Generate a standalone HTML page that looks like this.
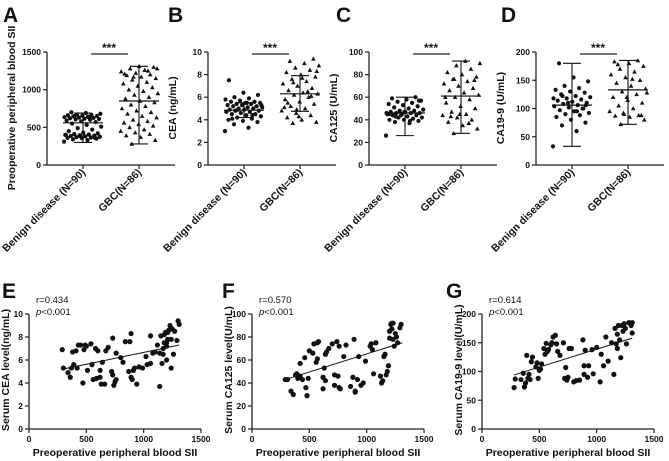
<!DOCTYPE html>
<html><head><meta charset="utf-8">
<style>
html,body{margin:0;padding:0;background:#fff;}
svg{display:block;font-family:"Liberation Sans",Arial,sans-serif;}
</style></head>
<body>
<svg id="fig" width="669" height="461" viewBox="0 0 669 461" xmlns="http://www.w3.org/2000/svg"></svg>
<script>
// ---- Group comparison data (panels A-D) ----
const groupCategories = ["Benign disease (N=90)", "GBC(N=86)"];
const aBenign = [310,330,340,350,355,360,365,370,375,380,385,390,395,400,405,410,420,430,450,470,490,510,530,550,570,580,590,600,605,610,615,620,625,630,635,640,645,650,655,660,665,670,680,690,700,360,380,400,630,650];
const aGBC = [280,330,370,390,410,430,450,470,500,520,540,560,580,600,630,650,680,700,720,750,780,800,830,850,880,900,930,950,980,1000,1030,1050,1080,1100,1130,1150,1170,1190,1200,1220,1240,1260,1280,1300,1310,1210,1250,1170,1280];
const aMean = [560,850], aLow = [300,280], aHigh = [690,1310];
const bBenign = [3.0,3.3,3.6,3.8,3.9,4.0,4.1,4.2,4.3,4.4,4.5,4.5,4.6,4.7,4.7,4.8,4.8,4.9,4.9,5.0,5.0,5.1,5.1,5.2,5.2,5.3,5.3,5.4,5.4,5.5,5.5,5.6,5.6,5.7,5.8,5.9,6.0,6.2,6.4,7.5,4.4,4.9,5.3,5.5,4.1];
const bGBC = [3.7,3.8,4.0,4.2,4.4,4.6,4.8,5.0,5.2,5.4,5.6,5.8,6.0,6.2,6.3,6.4,6.6,6.8,7.0,7.2,7.4,7.6,7.8,8.0,8.2,8.4,8.6,8.8,9.0,9.2,9.4,4.3,5.1,6.5,7.3,8.3,7.7,5.5,6.1,4.9];
const bMean = [4.85,6.3], bLow = [4.2,4.75], bHigh = [5.5,7.9];
const cBenign = [26,37,38,39,40,40,41,42,42,43,44,44,45,45,46,46,46,47,47,48,48,49,50,51,52,53,54,55,56,57,58,59,60,44,46,39,43,57,47,45];
const cGBC = [28,32,35,38,40,42,44,45,47,50,52,55,58,60,62,64,66,68,70,72,74,76,78,80,82,85,88,90,92,43,75,45,60,37,76];
const cMean = [46,61], cLow = [26,28], cHigh = [60,92];
const dBenign = [33,60,70,75,80,85,88,90,92,95,97,100,102,104,106,108,110,112,114,116,118,120,122,125,128,130,133,136,140,148,155,180,100,110,118,95,122,106];
const dGBC = [72,80,85,87,88,90,95,100,105,110,115,120,125,130,135,140,145,150,155,160,165,170,175,180,183,185,92,128,152,178,88,120];
const dMean = [106,133], dLow = [33,72], dHigh = [180,185];

// ---- Correlation data (panels E-G) ----
const eSII = [290,300,340,360,370,380,390,410,420,430,450,470,480,490,500,510,540,550,560,580,590,600,620,620,630,640,660,670,690,720,730,730,740,750,760,760,800,820,840,870,880,890,890,900,910,920,940,960,990,1020,1030,1060,1060,1080,1100,1120,1140,1140,1150,1160,1170,1180,1180,1190,1200,1200,1210,1220,1230,1240,1240,1250,1260,1270,1290,1300,1310,1200,1170,1210];
const eCEA = [6.9,5.3,4.9,4.5,5.3,6.7,5.6,6.8,5.3,7.3,7.3,4.0,6.9,7.3,7.2,5.1,7.4,5.6,4.3,7.0,4.4,6.8,5.1,4.5,3.9,5.8,3.9,6.8,7.1,5.0,7.9,4.7,3.8,4.1,4.3,6.6,6.2,5.8,7.6,5.0,7.6,8.3,4.5,4.3,5.1,5.3,3.9,5.4,5.3,6.3,5.6,8.1,5.7,6.6,6.7,7.3,3.7,6.6,8.1,5.7,7.0,7.5,8.2,8.4,6.0,7.5,8.4,8.6,9.0,7.8,5.3,8.7,6.5,8.5,7.7,9.4,9.1,7.2,6.5,7.8];
const eFitX = [290,1310], eFitY = [5.2,7.3];
const fSII = [290,310,340,360,380,390,400,420,420,440,460,470,480,490,500,530,540,560,570,570,580,620,620,630,640,640,650,670,700,720,720,740,750,760,770,760,800,820,860,880,890,900,900,920,930,950,970,990,1030,1040,1050,1060,1080,1120,1130,1140,1150,1160,1170,1180,1190,1200,1200,1210,1220,1230,1240,1250,1260,1270,1290,1300,1230,1220];
const fCA125 = [43,43,33,30,47,48,44,57,46,43,62,36,29,44,68,66,74,58,61,75,76,35,45,53,42,65,67,70,74,38,47,76,46,36,35,72,63,73,37,45,78,33,32,43,63,38,40,59,72,74,69,48,75,46,40,42,63,65,47,50,55,79,85,91,92,78,72,83,80,75,88,91,92,87];
const fFitX = [290,1310], fFitY = [43,75];
const gSII = [280,290,340,360,370,380,390,400,410,420,430,440,470,480,490,500,510,520,540,550,560,570,580,600,610,620,640,650,660,680,710,720,730,740,750,760,780,800,820,850,880,890,890,900,920,930,960,970,1000,1030,1040,1060,1080,1100,1130,1150,1160,1170,1180,1190,1200,1210,1220,1230,1240,1250,1260,1280,1300,1310,1310,1180];
const gCA199 = [72,87,86,97,73,80,128,88,95,86,117,125,108,115,88,102,104,113,140,130,149,135,138,146,150,160,163,148,135,128,150,88,107,85,90,140,140,82,84,85,155,95,110,137,90,110,138,96,142,82,130,110,160,118,150,95,175,148,165,180,155,124,180,170,183,175,148,185,180,167,185,140];
const gFitX = [280,1310], gFitY = [94,158];

const NS = "http://www.w3.org/2000/svg";
const svg = document.getElementById('fig');
function el(tag, attrs, parent, text){
  const e = document.createElementNS(NS, tag);
  for (const k in attrs) e.setAttribute(k, attrs[k]);
  if (text !== undefined) e.textContent = text;
  (parent || svg).appendChild(e);
  return e;
}
function linear(d0,d1,r0,r1){ return v => r0 + (v-d0)/(d1-d0)*(r1-r0); }

function panelLabel(letter, x, y){
  const t = el('text',{x:x,y:y,'font-size':21,'font-weight':'bold',fill:'#111'},svg,letter);
  
  
}

function groupPanel(id, ax, ymax, ticks, title, benign, gbc, mean, low, high){
  const g = el('g',{});
  
  
  const y = linear(0,ymax,165,52);
  const xs = [ax+36, ax+92];
  const ya = el('line',{x1:ax,y1:y(ymax),x2:ax,y2:165,stroke:'#222','stroke-width':1.3},g);
   
  const xa = el('line',{x1:ax,y1:165,x2:ax+128,y2:165,stroke:'#222','stroke-width':1.3},g);
   
  ticks.forEach(t=>{
    el('line',{x1:ax-4,y1:y(t),x2:ax,y2:y(t),stroke:'#222','stroke-width':1.2},g);
    const tl = el('text',{x:ax-6,y:y(t)+3,'font-size':8.5,'font-weight':'bold','text-anchor':'end',fill:'#111'},g,t);
     
  });
  groupCategories.forEach((c,i)=>{
    el('line',{x1:xs[i],y1:165,x2:xs[i],y2:169,stroke:'#222','stroke-width':1.2},g);
    const tl = el('text',{x:xs[i]+3,y:173,'font-size':10.5,'font-weight':'bold','text-anchor':'end',fill:'#111',transform:`rotate(-45 ${xs[i]+3} 173)`},g,c);
     
  });
  const yt = el('text',{x:0,y:0,'font-size':10.5,'font-weight':'bold','text-anchor':'middle',fill:'#111',transform:`translate(${ax-32},108) rotate(-90)`},g,title);
   
  [benign,gbc].forEach((arr,gi)=>{
    arr.forEach((v,i)=>{
      const frac = ((i*0.6180339887 + gi*0.31) % 1);
      const off = (frac - 0.5) * 38;
      const px = xs[gi]+off, py = y(v);
      if (gi===0){
        const c = el('circle',{cx:px,cy:py,r:2.1,fill:'#111'},g);
         
      } else {
        const p = el('polygon',{points:`${px},${py-2.4} ${px-2.3},${py+1.8} ${px+2.3},${py+1.8}`,fill:'#111'},g);
         
      }
    });
  });
  [0,1].forEach(i=>{
    const m = el('line',{x1:xs[i]-20,y1:y(mean[i]),x2:xs[i]+20,y2:y(mean[i]),stroke:'#111','stroke-width':1.2},g);
     
    const w = el('line',{x1:xs[i],y1:y(low[i]),x2:xs[i],y2:y(high[i]),stroke:'#111','stroke-width':1.1},g);
     
    el('line',{x1:xs[i]-9,y1:y(low[i]),x2:xs[i]+9,y2:y(low[i]),stroke:'#111','stroke-width':1.1},g);
    el('line',{x1:xs[i]-9,y1:y(high[i]),x2:xs[i]+9,y2:y(high[i]),stroke:'#111','stroke-width':1.1},g);
  });
  const sb = el('line',{x1:ax+44,y1:54,x2:ax+81,y2:54,stroke:'#222','stroke-width':1.2},g);
   
  const st = el('text',{x:ax+62,y:52,'font-size':12,'font-weight':'bold','text-anchor':'middle',fill:'#111'},g,'***');
   
}

function scatterPanel(id, ax, ymax, ticks, title, xs, ys, fx, fy, rText){
  const g = el('g',{});
  
  
  const x = linear(0,1500,ax,ax+172);
  const y = linear(0,ymax,429,314);
  const ya = el('line',{x1:ax,y1:314,x2:ax,y2:429,stroke:'#222','stroke-width':1.3},g);
   
  const xa = el('line',{x1:ax,y1:429,x2:ax+172,y2:429,stroke:'#222','stroke-width':1.3},g);
   
  ticks.forEach(t=>{
    el('line',{x1:ax-4,y1:y(t),x2:ax,y2:y(t),stroke:'#222','stroke-width':1.2},g);
    const tl = el('text',{x:ax-6,y:y(t)+3,'font-size':8.5,'font-weight':'bold','text-anchor':'end',fill:'#111'},g,t);
     
  });
  [0,500,1000,1500].forEach(t=>{
    el('line',{x1:x(t),y1:429,x2:x(t),y2:433,stroke:'#222','stroke-width':1.2},g);
    const tl = el('text',{x:x(t),y:442,'font-size':8.5,'font-weight':'bold','text-anchor':'middle',fill:'#111'},g,t);
     
  });
  const xt = el('text',{x:ax+86,y:456,'font-size':10.5,'font-weight':'bold','text-anchor':'middle',fill:'#111'},g,'Preoperative peripheral blood SII');
   
  const yt = el('text',{x:0,y:0,'font-size':10.5,'font-weight':'bold','text-anchor':'middle',fill:'#111',transform:`translate(${ax-20},370) rotate(-90)`},g,title);
   
  xs.forEach((v,i)=>{
    const c = el('circle',{cx:x(v),cy:y(ys[i]),r:2.6,fill:'#111'},g);
     
  });
  const fl = el('line',{x1:x(fx[0]),y1:y(fy[0]),x2:x(fx[1]),y2:y(fy[1]),stroke:'#111','stroke-width':1},g);
   
  const r = el('text',{x:ax+7,y:303,'font-size':9.5,fill:'#111'},g,rText);
   
  const p = el('text',{x:ax+7,y:315,'font-size':9.5,fill:'#111'},g);
   
  el('tspan',{'font-style':'italic'},p,'p');
  el('tspan',{},p,'<0.001');
}

panelLabel('A',3,22); panelLabel('B',168,22); panelLabel('C',336,22); panelLabel('D',501,22);
panelLabel('E',2,298); panelLabel('F',222,298); panelLabel('G',446,298);

groupPanel('a',47,1500,[0,500,1000,1500],'Preoperative peripheral blood SII',aBenign,aGBC,aMean,aLow,aHigh);
groupPanel('b',208,10,[0,2,4,6,8,10],'CEA (ng/mL)',bBenign,bGBC,bMean,bLow,bHigh);
groupPanel('c',369,100,[0,20,40,60,80,100],'CA125 (U/mL)',cBenign,cGBC,cMean,cLow,cHigh);
groupPanel('d',536,200,[0,50,100,150,200],'CA19-9 (U/mL)',dBenign,dGBC,dMean,dLow,dHigh);

scatterPanel('e',29,10,[0,2,4,6,8,10],'Serum CEA level(ng/mL)',eSII,eCEA,eFitX,eFitY,'r=0.434');
scatterPanel('f',252,100,[0,20,40,60,80,100],'Serum CA125 level(U/mL)',fSII,fCA125,fFitX,fFitY,'r=0.570');
scatterPanel('g',482,200,[0,50,100,150,200],'Serum CA19-9 level(U/mL)',gSII,gCA199,gFitX,gFitY,'r=0.614');
</script>
</body></html>
